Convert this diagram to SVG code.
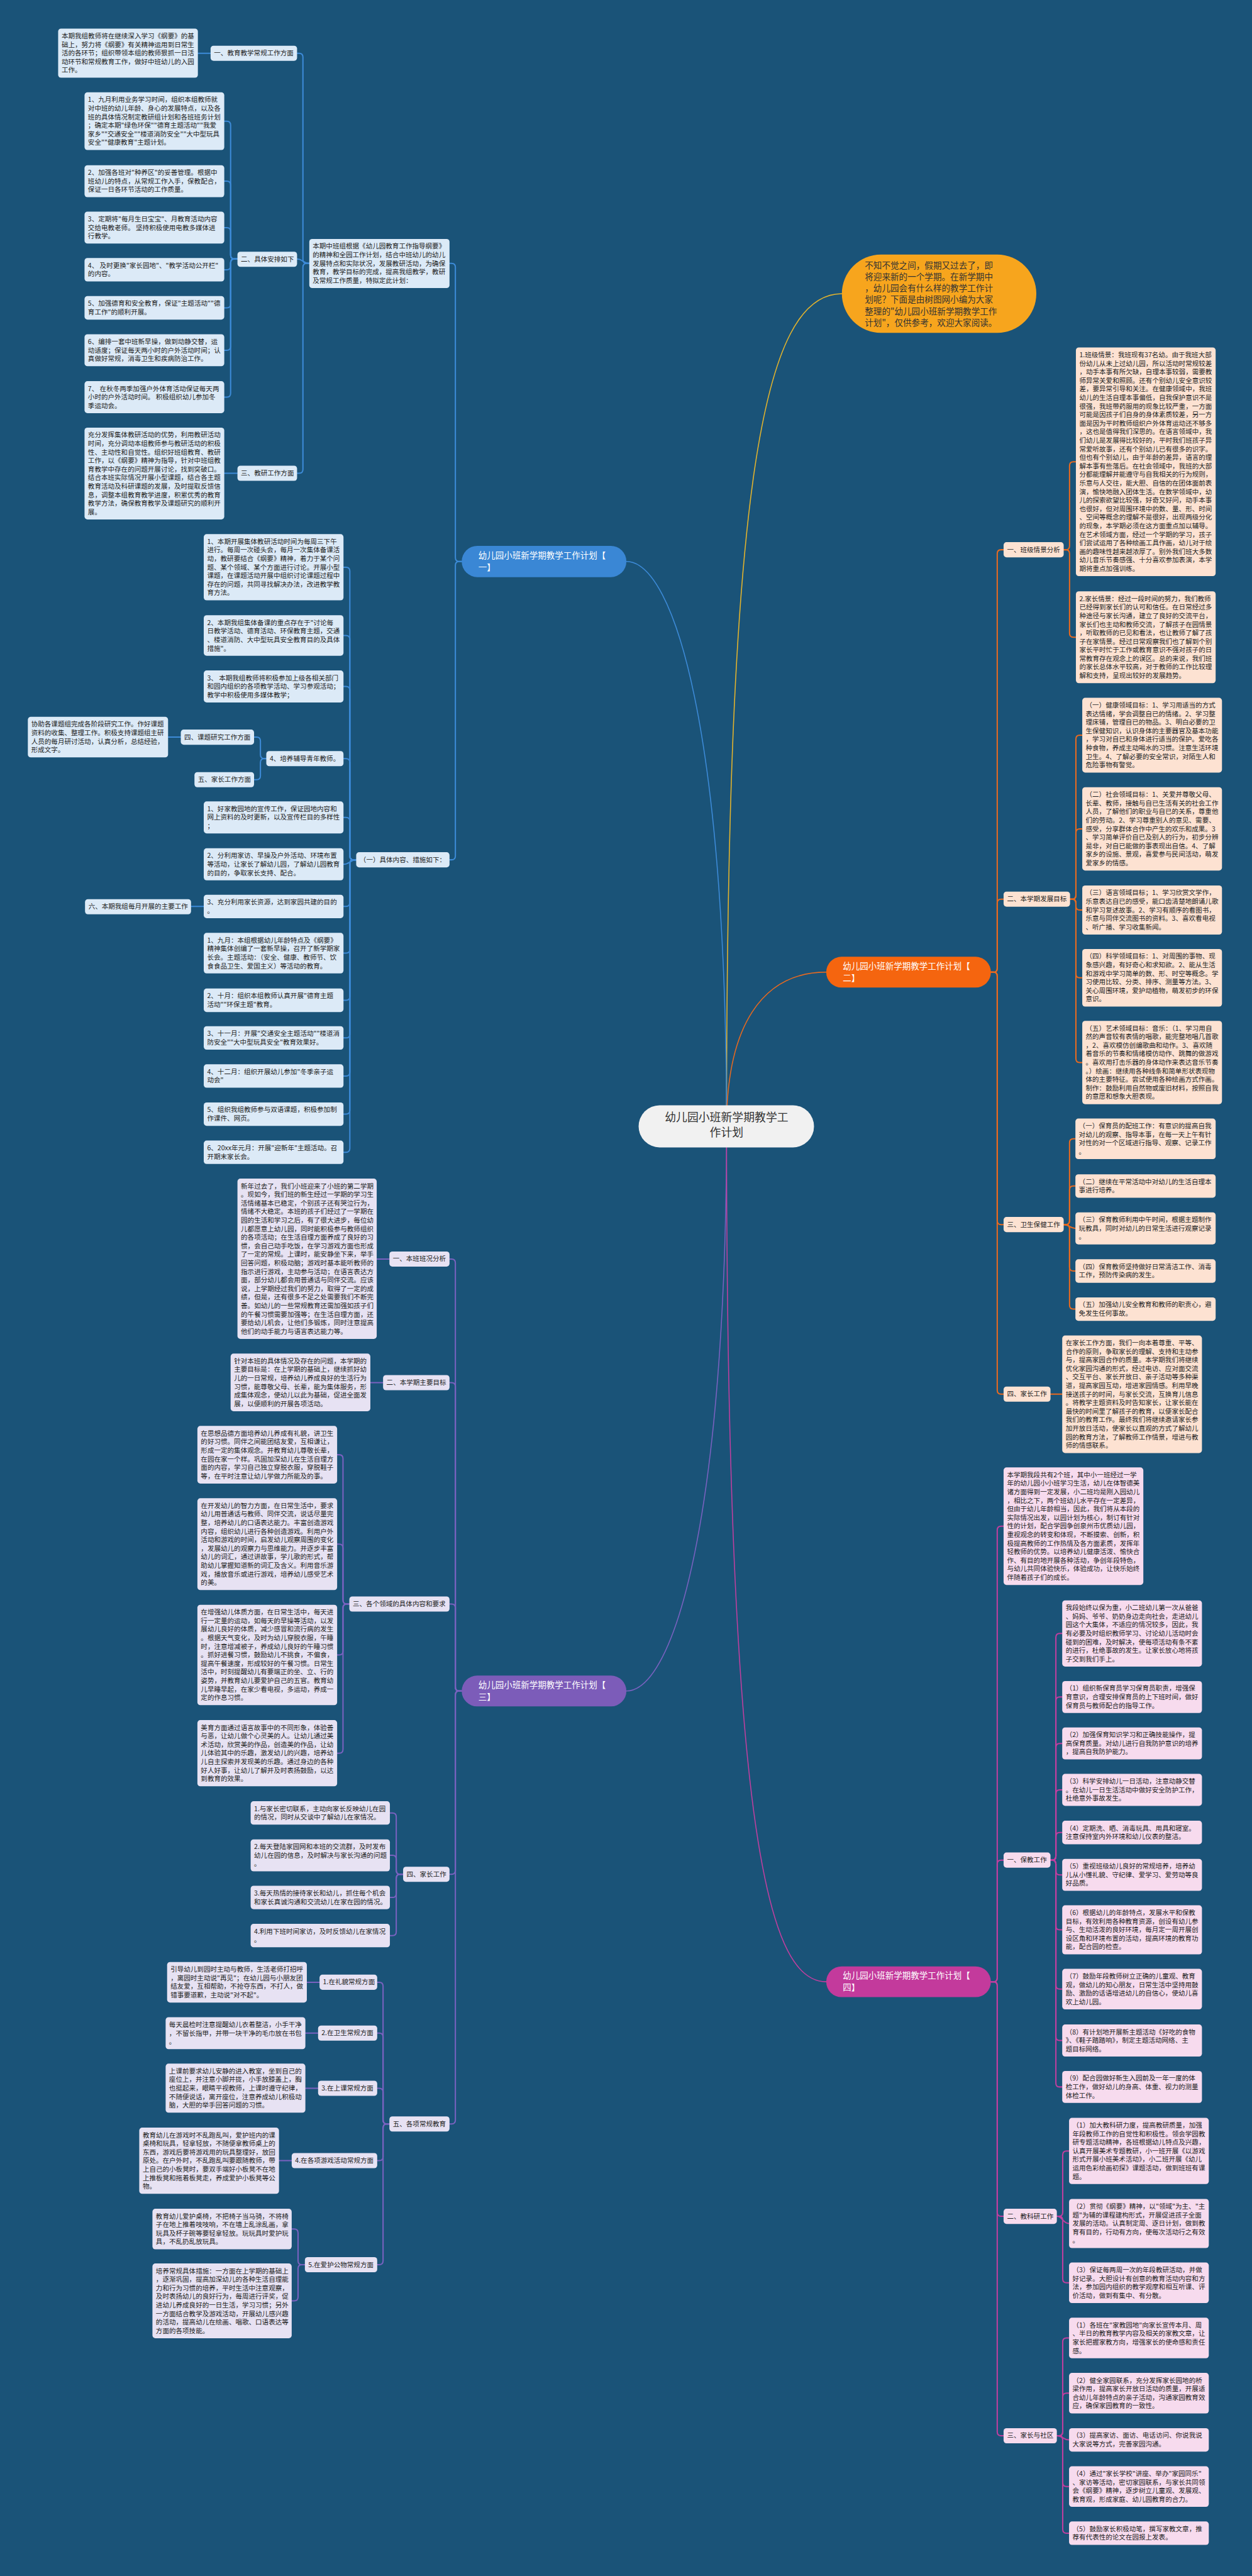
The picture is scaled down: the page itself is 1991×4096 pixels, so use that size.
<svg xmlns="http://www.w3.org/2000/svg" width="1991" height="4096" viewBox="0 0 1991 4096">
<style>
text{font-family:"Noto Sans CJK SC","Noto Sans",sans-serif}
.t{font-size:13.6px;fill:#222}
.pl{font-size:17.4px;fill:#fff}
.rt{font-size:23px;fill:#333;text-anchor:middle}
.bu{font-size:17.5px;fill:#333}
.b{fill:#dceaf7}.o{fill:#fde2d2}.p{fill:#e7e2f3}.m{fill:#f7dbee}
.cn path{fill:none;stroke-width:2.6;stroke-linecap:round}
.cb path{stroke:#3d8bd8}.co path{stroke:#ea6a1f}.cp path{stroke:#7a62c0}.cm path{stroke:#c13f9f}
.main path{fill:none;stroke-width:2}
</style>
<rect x="0" y="0" width="1991" height="4096" fill="#1a5378"/>
<g transform="scale(0.777)">
<g id="connectors" class="cn">
<g class="main">
<path d="M1487 2305 C1487 1000 1560 601 1723 601" stroke="#e6b52c"/>
<path d="M1487 2305 C1487 1500 1380 1149 1282 1149" stroke="#3d8bd8"/>
<path d="M1487 2305 C1487 2100 1560 1989.5 1691 1989.5" stroke="#ea6a1f"/>
<path d="M1487 2305 C1487 3100 1380 3460.5 1282 3460.5" stroke="#7a62c0"/>
<path d="M1487 2305 C1487 3800 1580 4055.5 1691 4055.5" stroke="#c13f9f"/>
</g>
<g class="cb">
<path d="M945 1149 H940 Q932 1149 932 1141 V547 Q932 539 924 539 H920"/>
<path d="M945 1149 H940 Q932 1149 932 1157 V1751.5 Q932 1759.5 924 1759.5 H920"/>
<path d="M633 539 H628 Q620 539 620 531 V117 Q620 109 612 109 H608"/>
<path d="M633 539 C620 539 620 530 608 530"/>
<path d="M633 539 H628 Q620 539 620 547 V960.5 Q620 968.5 612 968.5 H608"/>
<path d="M431 109 H405"/>
<path d="M486 530 H480 Q472 530 472 522 V256 Q472 248 464 248 H459"/>
<path d="M486 530 H480 Q472 530 472 522 V378.75 Q472 370.75 464 370.75 H459"/>
<path d="M486 530 H480 Q472 530 472 522 V473.75 Q472 465.75 464 465.75 H459"/>
<path d="M486 530 H480 Q472 530 472 538 V544 Q472 552 464 552 H459"/>
<path d="M486 530 H480 Q472 530 472 538 V622 Q472 630 464 630 H459"/>
<path d="M486 530 H480 Q472 530 472 538 V708.75 Q472 716.75 464 716.75 H459"/>
<path d="M486 530 H480 Q472 530 472 538 V804.75 Q472 812.75 464 812.75 H459"/>
<path d="M486 968.5 H459"/>
<path d="M729 1759.5 H724 Q716 1759.5 716 1751.5 V1168.75 Q716 1160.75 708 1160.75 H703"/>
<path d="M729 1759.5 H724 Q716 1759.5 716 1751.5 V1308.5 Q716 1300.5 708 1300.5 H703"/>
<path d="M729 1759.5 H724 Q716 1759.5 716 1751.5 V1412.75 Q716 1404.75 708 1404.75 H703"/>
<path d="M729 1759.5 H724 Q716 1759.5 716 1751.5 V1560.5 Q716 1552.5 708 1552.5 H703"/>
<path d="M729 1759.5 H724 Q716 1759.5 716 1751.5 V1680.75 Q716 1672.75 708 1672.75 H703"/>
<path d="M729 1759.5 C716 1759.5 716 1768.75 703 1768.75"/>
<path d="M729 1759.5 H724 Q716 1759.5 716 1767.5 V1847 Q716 1855 708 1855 H703"/>
<path d="M729 1759.5 H724 Q716 1759.5 716 1767.5 V1942.5 Q716 1950.5 708 1950.5 H703"/>
<path d="M729 1759.5 H724 Q716 1759.5 716 1767.5 V2039 Q716 2047 708 2047 H703"/>
<path d="M729 1759.5 H724 Q716 1759.5 716 1767.5 V2116 Q716 2124 708 2124 H703"/>
<path d="M729 1759.5 H724 Q716 1759.5 716 1767.5 V2194 Q716 2202 708 2202 H703"/>
<path d="M729 1759.5 H724 Q716 1759.5 716 1767.5 V2272 Q716 2280 708 2280 H703"/>
<path d="M729 1759.5 H724 Q716 1759.5 716 1767.5 V2350 Q716 2358 708 2358 H703"/>
<path d="M545 1552.5 H541 Q533 1552.5 533 1544.5 V1516.5 Q533 1508.5 525 1508.5 H520"/>
<path d="M545 1552.5 H541 Q533 1552.5 533 1560.5 V1587.5 Q533 1595.5 525 1595.5 H520"/>
<path d="M370 1508.5 H344"/>
<path d="M417 1855 H391"/>
</g>
<g class="cp">
<path d="M945 3460.5 H940 Q932 3460.5 932 3452.5 V2584.5 Q932 2576.5 924 2576.5 H920"/>
<path d="M945 3460.5 H940 Q932 3460.5 932 3452.5 V2837.5 Q932 2829.5 924 2829.5 H920"/>
<path d="M945 3460.5 H940 Q932 3460.5 932 3452.5 V3290.5 Q932 3282.5 924 3282.5 H920"/>
<path d="M945 3460.5 H940 Q932 3460.5 932 3468.5 V3827.5 Q932 3835.5 924 3835.5 H920"/>
<path d="M945 3460.5 H940 Q932 3460.5 932 3468.5 V4338.5 Q932 4346.5 924 4346.5 H920"/>
<path d="M797 2576.5 H771"/>
<path d="M784 2829.5 H758"/>
<path d="M715 3282.5 H710 Q702 3282.5 702 3274.5 V2985 Q702 2977 694 2977 H690"/>
<path d="M715 3282.5 H710 Q702 3282.5 702 3274.5 V3168 Q702 3160 694 3160 H690"/>
<path d="M715 3282.5 H710 Q702 3282.5 702 3290.5 V3378.75 Q702 3386.75 694 3386.75 H690"/>
<path d="M715 3282.5 H710 Q702 3282.5 702 3290.5 V3579.75 Q702 3587.75 694 3587.75 H690"/>
<path d="M825 3835.5 H819 Q811 3835.5 811 3827.5 V3718 Q811 3710 803 3710 H798"/>
<path d="M825 3835.5 H819 Q811 3835.5 811 3827.5 V3804.75 Q811 3796.75 803 3796.75 H798"/>
<path d="M825 3835.5 H819 Q811 3835.5 811 3843.5 V3875 Q811 3883 803 3883 H798"/>
<path d="M825 3835.5 H819 Q811 3835.5 811 3843.5 V3953 Q811 3961 803 3961 H798"/>
<path d="M797 4346.5 H792 Q784 4346.5 784 4338.5 V4064.5 Q784 4056.5 776 4056.5 H772"/>
<path d="M797 4346.5 H792 Q784 4346.5 784 4338.5 V4168.5 Q784 4160.5 776 4160.5 H772"/>
<path d="M797 4346.5 H792 Q784 4346.5 784 4338.5 V4281.5 Q784 4273.5 776 4273.5 H772"/>
<path d="M797 4346.5 H792 Q784 4346.5 784 4354.5 V4413.5 Q784 4421.5 776 4421.5 H772"/>
<path d="M797 4346.5 H792 Q784 4346.5 784 4354.5 V4626.5 Q784 4634.5 776 4634.5 H772"/>
<path d="M654 4056.5 H628"/>
<path d="M651 4160.5 H625"/>
<path d="M651 4273.5 H625"/>
<path d="M597 4421.5 H571"/>
<path d="M624 4634.5 H618 Q610 4634.5 610 4626.5 V4569.5 Q610 4561.5 602 4561.5 H597"/>
<path d="M624 4634.5 H618 Q610 4634.5 610 4642.5 V4700.5 Q610 4708.5 602 4708.5 H597"/>
</g>
<g class="co">
<path d="M2028 1989.5 H2033 Q2041 1989.5 2041 1981.5 V1133 Q2041 1125 2049 1125 H2054"/>
<path d="M2028 1989.5 H2033 Q2041 1989.5 2041 1981.5 V1848 Q2041 1840 2049 1840 H2054"/>
<path d="M2028 1989.5 H2033 Q2041 1989.5 2041 1997.5 V2498 Q2041 2506 2049 2506 H2054"/>
<path d="M2028 1989.5 H2033 Q2041 1989.5 2041 1997.5 V2845 Q2041 2853 2049 2853 H2054"/>
<path d="M2177 1125 H2181 Q2189 1125 2189 1117 V953 Q2189 945 2197 945 H2202"/>
<path d="M2177 1125 H2181 Q2189 1125 2189 1133 V1296 Q2189 1304 2197 1304 H2202"/>
<path d="M2190 1840 H2194 Q2202 1840 2202 1832 V1512.5 Q2202 1504.5 2210 1504.5 H2215"/>
<path d="M2190 1840 H2194 Q2202 1840 2202 1832 V1704.25 Q2202 1696.25 2210 1696.25 H2215"/>
<path d="M2190 1840 H2194 Q2202 1840 2202 1848 V1854.25 Q2202 1862.25 2210 1862.25 H2215"/>
<path d="M2190 1840 H2194 Q2202 1840 2202 1848 V1993 Q2202 2001 2210 2001 H2215"/>
<path d="M2190 1840 H2194 Q2202 1840 2202 1848 V2166.25 Q2202 2174.25 2210 2174.25 H2215"/>
<path d="M2177 2506 H2181 Q2189 2506 2189 2498 V2338.5 Q2189 2330.5 2197 2330.5 H2201"/>
<path d="M2177 2506 H2181 Q2189 2506 2189 2498 V2435 Q2189 2427 2197 2427 H2201"/>
<path d="M2177 2506 C2189 2506 2189 2513.75 2201 2513.75"/>
<path d="M2177 2506 H2181 Q2189 2506 2189 2514 V2593 Q2189 2601 2197 2601 H2201"/>
<path d="M2177 2506 H2181 Q2189 2506 2189 2514 V2671 Q2189 2679 2197 2679 H2201"/>
<path d="M2150 2853 H2174"/>
</g>
<g class="cm">
<path d="M2028 4055.5 H2033 Q2041 4055.5 2041 4047.5 V3131.25 Q2041 3123.25 2049 3123.25 H2054"/>
<path d="M2028 4055.5 H2033 Q2041 4055.5 2041 4047.5 V3814.5 Q2041 3806.5 2049 3806.5 H2054"/>
<path d="M2028 4055.5 H2033 Q2041 4055.5 2041 4063.5 V4527.5 Q2041 4535.5 2049 4535.5 H2054"/>
<path d="M2028 4055.5 H2033 Q2041 4055.5 2041 4063.5 V4976.5 Q2041 4984.5 2049 4984.5 H2054"/>
<path d="M2150 3806.5 H2153 Q2161 3806.5 2161 3798.5 V3350.75 Q2161 3342.75 2169 3342.75 H2174"/>
<path d="M2150 3806.5 H2153 Q2161 3806.5 2161 3798.5 V3480.75 Q2161 3472.75 2169 3472.75 H2174"/>
<path d="M2150 3806.5 H2153 Q2161 3806.5 2161 3798.5 V3575.75 Q2161 3567.75 2169 3567.75 H2174"/>
<path d="M2150 3806.5 H2153 Q2161 3806.5 2161 3798.5 V3670.75 Q2161 3662.75 2169 3662.75 H2174"/>
<path d="M2150 3806.5 H2153 Q2161 3806.5 2161 3798.5 V3758 Q2161 3750 2169 3750 H2174"/>
<path d="M2150 3806.5 H2153 Q2161 3806.5 2161 3814.5 V3828.75 Q2161 3836.75 2169 3836.75 H2174"/>
<path d="M2150 3806.5 H2153 Q2161 3806.5 2161 3814.5 V3941.25 Q2161 3949.25 2169 3949.25 H2174"/>
<path d="M2150 3806.5 H2153 Q2161 3806.5 2161 3814.5 V4062.5 Q2161 4070.5 2169 4070.5 H2174"/>
<path d="M2150 3806.5 H2153 Q2161 3806.5 2161 3814.5 V4167.75 Q2161 4175.75 2169 4175.75 H2174"/>
<path d="M2150 3806.5 H2153 Q2161 3806.5 2161 3814.5 V4262.75 Q2161 4270.75 2169 4270.75 H2174"/>
<path d="M2163 4535.5 H2167 Q2175 4535.5 2175 4527.5 V4409.75 Q2175 4401.75 2183 4401.75 H2188"/>
<path d="M2163 4535.5 C2175 4535.5 2175 4550.25 2188 4550.25"/>
<path d="M2163 4535.5 H2167 Q2175 4535.5 2175 4543.5 V4663.5 Q2175 4671.5 2183 4671.5 H2188"/>
<path d="M2163 4984.5 H2167 Q2175 4984.5 2175 4976.5 V4792.5 Q2175 4784.5 2183 4784.5 H2188"/>
<path d="M2163 4984.5 H2167 Q2175 4984.5 2175 4976.5 V4905.5 Q2175 4897.5 2183 4897.5 H2188"/>
<path d="M2163 4984.5 C2175 4984.5 2175 4993 2188 4993"/>
<path d="M2163 4984.5 H2167 Q2175 4984.5 2175 4992.5 V5080.5 Q2175 5088.5 2183 5088.5 H2188"/>
<path d="M2163 4984.5 H2167 Q2175 4984.5 2175 4992.5 V5176 Q2175 5184 2183 5184 H2188"/>
</g>
</g>

<g id="n-root"><rect x="1307" y="2262" width="359" height="86" rx="43" fill="#f1f1f1"/><text class="rt"><tspan x="1487" y="2295">幼儿园小班新学期教学工</tspan><tspan x="1487" y="2326">作计划</tspan></text></g>
<g id="n-intro"><rect x="1723" y="521" width="398" height="160" rx="80" fill="#f7a51d"/><text class="bu"><tspan x="1770" y="549">不知不觉之间，假期又过去了，即</tspan><tspan x="1770" dy="23.5">将迎来新的一个学期。在新学期中</tspan><tspan x="1770" dy="23.5">，幼儿园会有什么样的教学工作计</tspan><tspan x="1770" dy="23.5">划呢？下面是由树图网小编为大家</tspan><tspan x="1770" dy="23.5">整理的"幼儿园小班新学期教学工作</tspan><tspan x="1770" dy="23.5">计划"，仅供参考，欢迎大家阅读。</tspan></text></g>

<g id="n-b1"><rect x="945" y="1117" width="337" height="64" rx="32" fill="#3a87d5"/><text class="pl"><tspan x="979" y="1143">幼儿园小班新学期教学工作计划【</tspan><tspan x="979" dy="24">一】</tspan></text></g>
<g id="n-b2"><rect x="1691" y="1958" width="337" height="63" rx="31.5" fill="#f5650f"/><text class="pl"><tspan x="1725" y="1983.5">幼儿园小班新学期教学工作计划【</tspan><tspan x="1725" dy="24">二】</tspan></text></g>
<g id="n-b3"><rect x="945" y="3429" width="337" height="63" rx="31.5" fill="#7c5cb9"/><text class="pl"><tspan x="979" y="3454.5">幼儿园小班新学期教学工作计划【</tspan><tspan x="979" dy="24">三】</tspan></text></g>
<g id="n-b4"><rect x="1691" y="4024" width="337" height="63" rx="31.5" fill="#c33a9c"/><text class="pl"><tspan x="1725" y="4049.5">幼儿园小班新学期教学工作计划【</tspan><tspan x="1725" dy="24">四】</tspan></text></g>

<!-- branch 1 -->
<g id="n1-intro"><rect class="b" x="633" y="489" width="287" height="100.5" rx="6"/><text class="t"><tspan x="640" y="509">本期中班组根据《幼儿园教育工作指导纲要》</tspan><tspan x="640" dy="17.5">的精神和全园工作计划，结合中班幼儿的幼儿</tspan><tspan x="640" dy="17.5">发展特点和实际状况，发展教研活动，为确保</tspan><tspan x="640" dy="17.5">教育，教学目标的完成，提高我组教学，教研</tspan><tspan x="640" dy="17.5">及常规工作质量，特拟定此计划：</tspan></text></g>
<g id="n1-s1"><rect class="b" x="431" y="93.5" width="177" height="31" rx="6"/><text class="t" x="438" y="113.5">一、教育教学常规工作方面</text></g>
<g id="n1-s1a"><rect class="b" x="119" y="58.5" width="286" height="100.5" rx="6"/><text class="t"><tspan x="126" y="78.5">本期我组教师将在继续深入学习《纲要》的基</tspan><tspan x="126" dy="17.5">础上，努力将《纲要》有关精神运用到日常生</tspan><tspan x="126" dy="17.5">活的各环节；组织带领本组的教师狠抓一日活</tspan><tspan x="126" dy="17.5">动环节和常规教育工作，做好中班幼儿的入园</tspan><tspan x="126" dy="17.5">工作。</tspan></text></g>
<g id="n1-s2"><rect class="b" x="486" y="515" width="122" height="31" rx="6"/><text class="t" x="493" y="535">二、具体安排如下</text></g>
<g id="n1-s2-1"><rect class="b" x="173" y="189" width="286" height="118" rx="6"/><text class="t"><tspan x="180" y="209">1、九月利用业务学习时间，组织本组教师就</tspan><tspan x="180" dy="17.5">对中班的幼儿年龄、身心的发展特点，以及各</tspan><tspan x="180" dy="17.5">班的具体情况制定教研组计划和各班班务计划</tspan><tspan x="180" dy="17.5">；确定本期"绿色环保""德育主题活动""我爱</tspan><tspan x="180" dy="17.5">家乡""交通安全""楼道消防安全""大中型玩具</tspan><tspan x="180" dy="17.5">安全""健康教育"主题计划。</tspan></text></g>
<g id="n1-s2-2"><rect class="b" x="173" y="338" width="286" height="65.5" rx="6"/><text class="t"><tspan x="180" y="358">2、加强各班对"种养区"的妥善管理。根据中</tspan><tspan x="180" dy="17.5">班幼儿的特点，从常规工作入手，保教配合，</tspan><tspan x="180" dy="17.5">保证一日各环节活动的工作质量。</tspan></text></g>
<g id="n1-s2-3"><rect class="b" x="173" y="433" width="286" height="65.5" rx="6"/><text class="t"><tspan x="180" y="453">3、定期将"每月生日宝宝"、月教育活动内容</tspan><tspan x="180" dy="17.5">交给电教老师。 坚持积极使用电教多媒体进</tspan><tspan x="180" dy="17.5">行教学。</tspan></text></g>
<g id="n1-s2-4"><rect class="b" x="173" y="528" width="286" height="48" rx="6"/><text class="t"><tspan x="180" y="548">4、 及时更换"家长园地"、"教学活动公开栏"</tspan><tspan x="180" dy="17.5">的内容。</tspan></text></g>
<g id="n1-s2-5"><rect class="b" x="173" y="606" width="286" height="48" rx="6"/><text class="t"><tspan x="180" y="626">5、加强德育和安全教育，保证"主题活动""德</tspan><tspan x="180" dy="17.5">育工作"的顺利开展。</tspan></text></g>
<g id="n1-s2-6"><rect class="b" x="173" y="684" width="286" height="65.5" rx="6"/><text class="t"><tspan x="180" y="704">6、编排一套中班新早操，做到动静交替，运</tspan><tspan x="180" dy="17.5">动适度；保证每天两小时的户外活动时间；认</tspan><tspan x="180" dy="17.5">真做好常规，消毒卫生和疾病防治工作。</tspan></text></g>
<g id="n1-s2-7"><rect class="b" x="173" y="780" width="286" height="65.5" rx="6"/><text class="t"><tspan x="180" y="800">7、 在秋冬两季加强户外体育活动保证每天两</tspan><tspan x="180" dy="17.5">小时的户外活动时间。 积极组织幼儿参加冬</tspan><tspan x="180" dy="17.5">季运动会。</tspan></text></g>
<g id="n1-s3"><rect class="b" x="486" y="953" width="122" height="31" rx="6"/><text class="t" x="493" y="973">三、教研工作方面</text></g>
<g id="n1-s3a"><rect class="b" x="173" y="875" width="286" height="188" rx="6"/><text class="t"><tspan x="180" y="895">充分发挥集体教研活动的优势，利用教研活动</tspan><tspan x="180" dy="17.5">时间，充分调动本组教师参与教研活动的积极</tspan><tspan x="180" dy="17.5">性、主动性和自觉性。组织好班组教育、教研</tspan><tspan x="180" dy="17.5">工作，以《纲要》精神为指导，针对中班组教</tspan><tspan x="180" dy="17.5">育教学中存在的问题开展讨论，找到突破口。</tspan><tspan x="180" dy="17.5">结合本班实际情况开展小型课题，结合各主题</tspan><tspan x="180" dy="17.5">教育活动及科研课题的发展，及时提取反馈信</tspan><tspan x="180" dy="17.5">息，调整本组教育教学进度，积累优秀的教育</tspan><tspan x="180" dy="17.5">教学方法，确保教育教学及课题研究的顺利开</tspan><tspan x="180" dy="17.5">展。</tspan></text></g>
<g id="n1-m"><rect class="b" x="729" y="1744" width="191" height="31" rx="6"/><text class="t" x="736" y="1764">（一）具体内容、措施如下：</text></g>
<g id="n1-m1"><rect class="b" x="417" y="1093" width="286" height="135.5" rx="6"/><text class="t"><tspan x="424" y="1113">1、本期开展集体教研活动时间为每周三下午</tspan><tspan x="424" dy="17.5">进行。每周一次碰头会，每月一次集体备课活</tspan><tspan x="424" dy="17.5">动，教研要结合《纲要》精神，着力于某个问</tspan><tspan x="424" dy="17.5">题、某个领域、某个方面进行讨论。开展小型</tspan><tspan x="424" dy="17.5">课题，在课题活动开展中组织讨论课题过程中</tspan><tspan x="424" dy="17.5">存在的问题，共同寻找解决办法，改进教学教</tspan><tspan x="424" dy="17.5">育方法。</tspan></text></g>
<g id="n1-m2"><rect class="b" x="417" y="1259" width="286" height="83" rx="6"/><text class="t"><tspan x="424" y="1279">2、本期我组集体备课的重点存在于"讨论每</tspan><tspan x="424" dy="17.5">日教学活动、德育活动、环保教育主题，交通</tspan><tspan x="424" dy="17.5">、楼道消防、大中型玩具安全教育目的及具体</tspan><tspan x="424" dy="17.5">措施"。</tspan></text></g>
<g id="n1-m3"><rect class="b" x="417" y="1372" width="286" height="65.5" rx="6"/><text class="t"><tspan x="424" y="1392">3、 本期我组教师将积极参加上级各相关部门</tspan><tspan x="424" dy="17.5">和园内组织的各项教学活动、学习参观活动；</tspan><tspan x="424" dy="17.5">教学中积极使用多媒体教学；</tspan></text></g>
<g id="n1-m4"><rect class="b" x="545" y="1537" width="158" height="31" rx="6"/><text class="t" x="552" y="1557">4、培养辅导青年教师。</text></g>
<g id="n1-m4a"><rect class="b" x="370" y="1493" width="150" height="31" rx="6"/><text class="t" x="377" y="1513">四、课题研究工作方面</text></g>
<g id="n1-m4a1"><rect class="b" x="57" y="1467" width="287" height="83" rx="6"/><text class="t"><tspan x="64" y="1487">协助各课题组完成各阶段研究工作。作好课题</tspan><tspan x="64" dy="17.5">资料的收集、整理工作。积极支持课题组主研</tspan><tspan x="64" dy="17.5">人员的每月研讨活动，认真分析，总结经验，</tspan><tspan x="64" dy="17.5">形成文字。</tspan></text></g>
<g id="n1-m4b"><rect class="b" x="398" y="1580" width="122" height="31" rx="6"/><text class="t" x="405" y="1600">五、家长工作方面</text></g>
<g id="n1-m5"><rect class="b" x="417" y="1640" width="286" height="65.5" rx="6"/><text class="t"><tspan x="424" y="1660">1、好家教园地的宣传工作，保证园地内容和</tspan><tspan x="424" dy="17.5">网上资料的及时更新，以及宣传栏目的多样性</tspan><tspan x="424" dy="17.5">；</tspan></text></g>
<g id="n1-m6"><rect class="b" x="417" y="1736" width="286" height="65.5" rx="6"/><text class="t"><tspan x="424" y="1756">2、分利用家访、早操及户外活动、环境布置</tspan><tspan x="424" dy="17.5">等活动，让家长了解幼儿园，了解幼儿园教育</tspan><tspan x="424" dy="17.5">的目的，争取家长支持、配合。</tspan></text></g>
<g id="n1-m7"><rect class="b" x="417" y="1831" width="286" height="48" rx="6"/><text class="t"><tspan x="424" y="1851">3、充分利用家长资源，达到家园共建的目的</tspan><tspan x="424" dy="17.5">。</tspan></text></g>
<g id="n1-m7a"><rect class="b" x="174" y="1840" width="217" height="31" rx="6"/><text class="t" x="181" y="1860">六、本期我组每月开展的主要工作</text></g>
<g id="n1-m8"><rect class="b" x="417" y="1909" width="286" height="83" rx="6"/><text class="t"><tspan x="424" y="1929">1、九月：本组根据幼儿年龄特点及《纲要》</tspan><tspan x="424" dy="17.5">精神集体创编了一套新早操，召开了新学期家</tspan><tspan x="424" dy="17.5">长会。主题活动：（安全、健康、教师节、饮</tspan><tspan x="424" dy="17.5">食食品卫生、爱国主义）等活动的教育。</tspan></text></g>
<g id="n1-m9"><rect class="b" x="417" y="2023" width="286" height="48" rx="6"/><text class="t"><tspan x="424" y="2043">2、十月：组织本组教师认真开展"德育主题</tspan><tspan x="424" dy="17.5">活动""环保主题"教育。</tspan></text></g>
<g id="n1-m10"><rect class="b" x="417" y="2100" width="286" height="48" rx="6"/><text class="t"><tspan x="424" y="2120">3、十一月：开展"交通安全主题活动""楼道消</tspan><tspan x="424" dy="17.5">防安全""大中型玩具安全"教育效果好。</tspan></text></g>
<g id="n1-m11"><rect class="b" x="417" y="2178" width="286" height="48" rx="6"/><text class="t"><tspan x="424" y="2198">4、十二月：组织开展幼儿参加"冬季亲子运</tspan><tspan x="424" dy="17.5">动会"</tspan></text></g>
<g id="n1-m12"><rect class="b" x="417" y="2256" width="286" height="48" rx="6"/><text class="t"><tspan x="424" y="2276">5、组织我组教师参与双语课题，积极参加制</tspan><tspan x="424" dy="17.5">作课件、网页。</tspan></text></g>
<g id="n1-m13"><rect class="b" x="417" y="2334" width="286" height="48" rx="6"/><text class="t"><tspan x="424" y="2354">6、20xx年元月：开展"迎新年"主题活动。召</tspan><tspan x="424" dy="17.5">开期末家长会。</tspan></text></g>

<!-- branch 3 -->
<g id="n3-s1"><rect class="p" x="797" y="2561" width="123" height="31" rx="6"/><text class="t" x="804" y="2581">一、本班班况分析</text></g>
<g id="n3-s1a"><rect class="p" x="486" y="2412" width="285" height="328" rx="6"/><text class="t"><tspan x="493" y="2432">新年过去了，我们小班迎来了小班的第二学期</tspan><tspan x="493" dy="17.5">。现如今，我们班的新生经过一学期的学习生</tspan><tspan x="493" dy="17.5">活情绪基本已稳定，个别孩子还有哭泣行为，</tspan><tspan x="493" dy="17.5">情绪不大稳定。本班的孩子们经过了一学期在</tspan><tspan x="493" dy="17.5">园的生活和学习之后，有了很大进步，每位幼</tspan><tspan x="493" dy="17.5">儿都愿意上幼儿园，同时能积极参与教师组织</tspan><tspan x="493" dy="17.5">的各项活动；在生活自理方面养成了良好的习</tspan><tspan x="493" dy="17.5">惯，会自己动手吃饭，在学习游戏方面也形成</tspan><tspan x="493" dy="17.5">了一定的常规。上课时，能安静坐下来，举手</tspan><tspan x="493" dy="17.5">回答问题，积极动脑；游戏时基本能听教师的</tspan><tspan x="493" dy="17.5">指示进行游戏，主动参与活动；在语言表达方</tspan><tspan x="493" dy="17.5">面，部分幼儿都会用普通话与同伴交流。应该</tspan><tspan x="493" dy="17.5">说，上学期经过我们的努力，取得了一定的成</tspan><tspan x="493" dy="17.5">绩，但是，还有很多不足之处需要我们不断完</tspan><tspan x="493" dy="17.5">善。如幼儿的一些常规教育还需加强如孩子们</tspan><tspan x="493" dy="17.5">的午餐习惯需要加强等；在生活自理方面，还</tspan><tspan x="493" dy="17.5">要给幼儿机会，让他们多锻炼，同时注意提高</tspan><tspan x="493" dy="17.5">他们的动手能力与语言表达能力等。</tspan></text></g>
<g id="n3-s2"><rect class="p" x="784" y="2814" width="136" height="31" rx="6"/><text class="t" x="791" y="2834">二、本学期主要目标</text></g>
<g id="n3-s2a"><rect class="p" x="472" y="2770" width="286" height="118" rx="6"/><text class="t"><tspan x="479" y="2790">针对本班的具体情况及存在的问题，本学期的</tspan><tspan x="479" dy="17.5">主要目标是：在上学期的基础上，继续抓好幼</tspan><tspan x="479" dy="17.5">儿的一日常规，培养幼儿养成良好的生活行为</tspan><tspan x="479" dy="17.5">习惯，能尊敬父母、长辈，能为集体服务，形</tspan><tspan x="479" dy="17.5">成集体观念，使幼儿以此为基础，促进全面发</tspan><tspan x="479" dy="17.5">展，以便顺利的开展各项活动。</tspan></text></g>
<g id="n3-s3"><rect class="p" x="715" y="3267" width="205" height="31" rx="6"/><text class="t" x="722" y="3287">三、各个领域的具体内容和要求</text></g>
<g id="n3-s3-1"><rect class="p" x="404" y="2918" width="286" height="118" rx="6"/><text class="t"><tspan x="411" y="2938">在思想品德方面培养幼儿养成有礼貌，讲卫生</tspan><tspan x="411" dy="17.5">的好习惯。同伴之间能团结友爱，互相谦让，</tspan><tspan x="411" dy="17.5">形成一定的集体观念。并教育幼儿尊敬长辈，</tspan><tspan x="411" dy="17.5">在园在家一个样。巩固加深幼儿在生活自理方</tspan><tspan x="411" dy="17.5">面的内容，学习自己独立穿脱衣服，穿脱鞋子</tspan><tspan x="411" dy="17.5">等，在平时注意让幼儿学做力所能及的事。</tspan></text></g>
<g id="n3-s3-2"><rect class="p" x="404" y="3066" width="286" height="188" rx="6"/><text class="t"><tspan x="411" y="3086">在开发幼儿的智力方面，在日常生活中，要求</tspan><tspan x="411" dy="17.5">幼儿用普通话与教师、同伴交流，说话尽量完</tspan><tspan x="411" dy="17.5">整，培养幼儿的口语表达能力。丰富创造游戏</tspan><tspan x="411" dy="17.5">内容，组织幼儿进行各种创造游戏。利用户外</tspan><tspan x="411" dy="17.5">活动和游戏的时间，启发幼儿观察周围的变化</tspan><tspan x="411" dy="17.5">，发展幼儿的观察力与思维能力。并逐步丰富</tspan><tspan x="411" dy="17.5">幼儿的词汇，通过讲故事，学儿歌的形式，帮</tspan><tspan x="411" dy="17.5">助幼儿掌握知道新的词汇及含义。利用音乐游</tspan><tspan x="411" dy="17.5">戏，播放音乐或进行游戏，培养幼儿感受艺术</tspan><tspan x="411" dy="17.5">的美。</tspan></text></g>
<g id="n3-s3-3"><rect class="p" x="404" y="3284" width="286" height="205.5" rx="6"/><text class="t"><tspan x="411" y="3304">在增强幼儿体质方面，在日常生活中，每天进</tspan><tspan x="411" dy="17.5">行一定量的运动，如每天的早操等活动，以发</tspan><tspan x="411" dy="17.5">展幼儿良好的体质，减少感冒和流行病的发生</tspan><tspan x="411" dy="17.5">。根据天气变化，及时为幼儿穿脱衣服，午睡</tspan><tspan x="411" dy="17.5">时，注意增减被子，养成幼儿良好的午睡习惯</tspan><tspan x="411" dy="17.5">。抓好进餐习惯，鼓励幼儿不挑食，不偏食，</tspan><tspan x="411" dy="17.5">提高午餐速度，形成较好的午餐习惯。日常生</tspan><tspan x="411" dy="17.5">活中，时刻提醒幼儿有要端正的坐、立、行的</tspan><tspan x="411" dy="17.5">姿势，并教育幼儿要爱护自己的五官。教育幼</tspan><tspan x="411" dy="17.5">儿早睡早起，在家少看电视，多运动，养成一</tspan><tspan x="411" dy="17.5">定的作息习惯。</tspan></text></g>
<g id="n3-s3-4"><rect class="p" x="404" y="3520" width="286" height="135.5" rx="6"/><text class="t"><tspan x="411" y="3540">美育方面通过语言故事中的不同形象，体验善</tspan><tspan x="411" dy="17.5">与恶，让幼儿做个心灵美的人。让幼儿通过美</tspan><tspan x="411" dy="17.5">术活动，欣赏美的作品，创造美的作品，让幼</tspan><tspan x="411" dy="17.5">儿体验其中的乐趣，激发幼儿的兴趣，培养幼</tspan><tspan x="411" dy="17.5">儿自主探索并发现美的乐趣。通过身边的各种</tspan><tspan x="411" dy="17.5">好人好事，让幼儿了解并及时表扬鼓励，以达</tspan><tspan x="411" dy="17.5">到教育的效果。</tspan></text></g>
<g id="n3-s4"><rect class="p" x="825" y="3820" width="95" height="31" rx="6"/><text class="t" x="832" y="3840">四、家长工作</text></g>
<g id="n3-s4-1"><rect class="p" x="513" y="3686" width="285" height="48" rx="6"/><text class="t"><tspan x="520" y="3706">1.与家长密切联系，主动向家长反映幼儿在园</tspan><tspan x="520" dy="17.5">的情况，同时从交谈中了解幼儿在家情况。</tspan></text></g>
<g id="n3-s4-2"><rect class="p" x="513" y="3764" width="285" height="65.5" rx="6"/><text class="t"><tspan x="520" y="3784">2.每天登陆家园网和本班的交流群，及时发布</tspan><tspan x="520" dy="17.5">幼儿在园的信息，及时解决与家长沟通的问题</tspan><tspan x="520" dy="17.5">。</tspan></text></g>
<g id="n3-s4-3"><rect class="p" x="513" y="3859" width="285" height="48" rx="6"/><text class="t"><tspan x="520" y="3879">3.每天热情的接待家长和幼儿，抓住每个机会</tspan><tspan x="520" dy="17.5">和家长真诚沟通和交流幼儿在家在园的情况。</tspan></text></g>
<g id="n3-s4-4"><rect class="p" x="513" y="3937" width="285" height="48" rx="6"/><text class="t"><tspan x="520" y="3957">4.利用下班时间家访，及时反馈幼儿在家情况</tspan><tspan x="520" dy="17.5">。</tspan></text></g>
<g id="n3-s5"><rect class="p" x="797" y="4331" width="123" height="31" rx="6"/><text class="t" x="804" y="4351">五、各项常规教育</text></g>
<g id="n3-s5-1"><rect class="p" x="654" y="4041" width="118" height="31" rx="6"/><text class="t" x="661" y="4061">1.在礼貌常规方面</text></g>
<g id="n3-s5-1a"><rect class="p" x="342" y="4015" width="286" height="83" rx="6"/><text class="t"><tspan x="349" y="4035">引导幼儿到园时主动与教师，生活老师打招呼</tspan><tspan x="349" dy="17.5">，离园时主动说"再见"；在幼儿园与小朋友团</tspan><tspan x="349" dy="17.5">结友爱，互相帮助，不抢夺东西，不打人，做</tspan><tspan x="349" dy="17.5">错事要道歉，主动说"对不起"。</tspan></text></g>
<g id="n3-s5-2"><rect class="p" x="651" y="4145" width="121" height="31" rx="6"/><text class="t" x="658" y="4165">2.在卫生常规方面</text></g>
<g id="n3-s5-2a"><rect class="p" x="339" y="4128" width="286" height="65.5" rx="6"/><text class="t"><tspan x="346" y="4148">每天晨检时注意提醒幼儿衣着整洁，小手干净</tspan><tspan x="346" dy="17.5">，不留长指甲，并带一块干净的毛巾放在书包</tspan><tspan x="346" dy="17.5">。</tspan></text></g>
<g id="n3-s5-3"><rect class="p" x="651" y="4258" width="121" height="31" rx="6"/><text class="t" x="658" y="4278">3.在上课常规方面</text></g>
<g id="n3-s5-3a"><rect class="p" x="339" y="4223" width="286" height="100.5" rx="6"/><text class="t"><tspan x="346" y="4243">上课前要求幼儿安静的进入教室，坐到自己的</tspan><tspan x="346" dy="17.5">座位上，并注意小脚并拢，小手放膝盖上，胸</tspan><tspan x="346" dy="17.5">也挺起来，眼睛平视教师，上课时遵守纪律，</tspan><tspan x="346" dy="17.5">不随便说话，离开座位，注意养成幼儿积极动</tspan><tspan x="346" dy="17.5">脑，大胆的举手回答问题的习惯。</tspan></text></g>
<g id="n3-s5-4"><rect class="p" x="597" y="4406" width="175" height="31" rx="6"/><text class="t" x="604" y="4426">4.在各项游戏活动常规方面</text></g>
<g id="n3-s5-4a"><rect class="p" x="285" y="4354" width="286" height="135.5" rx="6"/><text class="t"><tspan x="292" y="4374">教育幼儿在游戏时不乱跑乱叫，爱护班内的课</tspan><tspan x="292" dy="17.5">桌椅和玩具，轻拿轻放，不随便拿教师桌上的</tspan><tspan x="292" dy="17.5">东西，游戏后要将游戏用的玩具整理好，放回</tspan><tspan x="292" dy="17.5">原处。在户外时，不乱跑乱叫要跟随教师，带</tspan><tspan x="292" dy="17.5">上自己的小板凳时，要双手端好小板凳不在地</tspan><tspan x="292" dy="17.5">上推板凳和拖着板凳走，养成爱护小板凳等公</tspan><tspan x="292" dy="17.5">物。</tspan></text></g>
<g id="n3-s5-5"><rect class="p" x="624" y="4619" width="148" height="31" rx="6"/><text class="t" x="631" y="4639">5.在爱护公物常规方面</text></g>
<g id="n3-s5-5a"><rect class="p" x="312" y="4520" width="285" height="83" rx="6"/><text class="t"><tspan x="319" y="4540">教育幼儿爱护桌椅，不把椅子当马骑，不将椅</tspan><tspan x="319" dy="17.5">子在地上推着吱吱响，不在墙上乱涂乱画，拿</tspan><tspan x="319" dy="17.5">玩具及杯子碗等要轻拿轻放。玩玩具时爱护玩</tspan><tspan x="319" dy="17.5">具，不乱扔乱放玩具。</tspan></text></g>
<g id="n3-s5-5b"><rect class="p" x="312" y="4632" width="285" height="153" rx="6"/><text class="t"><tspan x="319" y="4652">培养常规具体措施：一方面在上学期的基础上</tspan><tspan x="319" dy="17.5">，逐渐巩固，提高加深幼儿的各种生活自理能</tspan><tspan x="319" dy="17.5">力和行为习惯的培养，平时生活中注意观察，</tspan><tspan x="319" dy="17.5">及时表扬幼儿的良好行为，每周进行评奖，促</tspan><tspan x="319" dy="17.5">进幼儿养成良好的一日生活，学习习惯；另外</tspan><tspan x="319" dy="17.5">一方面结合教学及游戏活动，开展幼儿感兴趣</tspan><tspan x="319" dy="17.5">的活动，提高幼儿在绘画、唱歌、口语表达等</tspan><tspan x="319" dy="17.5">方面的各项技能。</tspan></text></g>

<!-- branch 2 -->
<g id="n2-s1"><rect class="o" x="2054" y="1109.5" width="123" height="31" rx="6"/><text class="t" x="2061" y="1129.5">一、班级情景分析</text></g>
<g id="n2-s1-1"><rect class="o" x="2202" y="711" width="286" height="468" rx="6"/><text class="t"><tspan x="2209" y="731">1.班级情景：我班现有37名幼。由于我班大部</tspan><tspan x="2209" dy="17.5">份幼儿从未上过幼儿园，所以活动时常规较差</tspan><tspan x="2209" dy="17.5">，动手本事有所欠缺，自理本事较弱，需要教</tspan><tspan x="2209" dy="17.5">师异常关爱和照顾。还有个别幼儿安全意识较</tspan><tspan x="2209" dy="17.5">差，要异常引导和关注。在健康领域中，我班</tspan><tspan x="2209" dy="17.5">幼儿的生活自理本事偏低，自我保护意识不是</tspan><tspan x="2209" dy="17.5">很强，我班带药服用的现象比较严重，一方面</tspan><tspan x="2209" dy="17.5">可能是因孩子们自身的身体素质较差，另一方</tspan><tspan x="2209" dy="17.5">面是因为平时教师组织户外体育运动还不够多</tspan><tspan x="2209" dy="17.5">，这也是值得我们深思的。在语言领域中，我</tspan><tspan x="2209" dy="17.5">们幼儿是发展得比较好的，平时我们班孩子异</tspan><tspan x="2209" dy="17.5">常爱听故事，还有个别幼儿已有很多的识字。</tspan><tspan x="2209" dy="17.5">但也有个别幼儿，由于年龄的差异，语言的理</tspan><tspan x="2209" dy="17.5">解本事有些落后。在社会领域中，我班的大部</tspan><tspan x="2209" dy="17.5">分都能理解并能遵守与自我相关的行为规则，</tspan><tspan x="2209" dy="17.5">乐意与人交往，能大胆、自信的在团体面前表</tspan><tspan x="2209" dy="17.5">演，愉快地融入团体生活。在数学领域中，幼</tspan><tspan x="2209" dy="17.5">儿的探索欲望比较强，好奇又好问，动手本事</tspan><tspan x="2209" dy="17.5">也很好，但对周围环境中的数、量、形、时间</tspan><tspan x="2209" dy="17.5">、空间等概念的理解不是很好，出现两级分化</tspan><tspan x="2209" dy="17.5">的现象，本学期必须在这方面重点加以辅导。</tspan><tspan x="2209" dy="17.5">在艺术领域方面，经过一个学期的学习，孩子</tspan><tspan x="2209" dy="17.5">们尝试运用了各种绘画工具作画，幼儿对于绘</tspan><tspan x="2209" dy="17.5">画的趣味性越来越浓厚了。别外我们班大多数</tspan><tspan x="2209" dy="17.5">幼儿音乐节奏感强、十分喜欢参加表演，本学</tspan><tspan x="2209" dy="17.5">期将重点加强训练。</tspan></text></g>
<g id="n2-s1-2"><rect class="o" x="2202" y="1210" width="286" height="188" rx="6"/><text class="t"><tspan x="2209" y="1230">2.家长情景：经过一段时间的努力，我们教师</tspan><tspan x="2209" dy="17.5">已经得到家长们的认可和信任。在日常经过多</tspan><tspan x="2209" dy="17.5">种途径与家长沟通，建立了良好的交流平台，</tspan><tspan x="2209" dy="17.5">家长们也主动和教师交流，了解孩子在园情景</tspan><tspan x="2209" dy="17.5">，听取教师的已见和看法，也让教师了解了孩</tspan><tspan x="2209" dy="17.5">子在家情景。经过日常观察我们也了解到个别</tspan><tspan x="2209" dy="17.5">家长平时忙于工作或教育意识不强对孩子的日</tspan><tspan x="2209" dy="17.5">常教育存在观念上的误区。总的来说，我们班</tspan><tspan x="2209" dy="17.5">的家长总体水平较高，对于教师的工作比较理</tspan><tspan x="2209" dy="17.5">解和支持，呈现出较好的发展趋势。</tspan></text></g>
<g id="n2-s2"><rect class="o" x="2054" y="1824.5" width="136" height="31" rx="6"/><text class="t" x="2061" y="1844.5">二、本学期发展目标</text></g>
<g id="n2-s2-1"><rect class="o" x="2215" y="1428" width="286" height="153" rx="6"/><text class="t"><tspan x="2222" y="1448">（一）健康领域目标：1、学习用适当的方式</tspan><tspan x="2222" dy="17.5">表达情绪，学会调整自已的情绪。2、学习整</tspan><tspan x="2222" dy="17.5">理床铺，管理自已的物品。3、明白必要的卫</tspan><tspan x="2222" dy="17.5">生保健知识，认识身体的主要器官及基本功能</tspan><tspan x="2222" dy="17.5">，学习对自已和身体进行适当的保护。爱吃各</tspan><tspan x="2222" dy="17.5">种食物，养成主动喝水的习惯。注意生活环境</tspan><tspan x="2222" dy="17.5">卫生。4、了解必要的安全常识，对陌生人和</tspan><tspan x="2222" dy="17.5">危险事物有警觉。</tspan></text></g>
<g id="n2-s2-2"><rect class="o" x="2215" y="1611" width="286" height="170.5" rx="6"/><text class="t"><tspan x="2222" y="1631">（二）社会领域目标：1、关爱并尊敬父母、</tspan><tspan x="2222" dy="17.5">长辈、教师，接触与自已生活有关的社会工作</tspan><tspan x="2222" dy="17.5">人员，了解他们的职业与自已的关系，尊重他</tspan><tspan x="2222" dy="17.5">们的劳动。2、学习尊重别人的意见、需要、</tspan><tspan x="2222" dy="17.5">感受，分享群体合作中产生的欢乐和成果。3</tspan><tspan x="2222" dy="17.5">、学习简单评价自已及别人的行为，初步分辨</tspan><tspan x="2222" dy="17.5">是非，对自已能做的事表现出自信。4、了解</tspan><tspan x="2222" dy="17.5">家乡的设施、景观，喜爱参与民间活动，萌发</tspan><tspan x="2222" dy="17.5">爱家乡的情感。</tspan></text></g>
<g id="n2-s2-3"><rect class="o" x="2215" y="1812" width="286" height="100.5" rx="6"/><text class="t"><tspan x="2222" y="1832">（三）语言领域目标；1、学习欣赏文学作，</tspan><tspan x="2222" dy="17.5">乐意表达自已的感受，能口齿清楚地朗诵儿歌</tspan><tspan x="2222" dy="17.5">和学习复述故事。2、学习有顺序的看图书，</tspan><tspan x="2222" dy="17.5">乐意与同伴交流图书的资料。3、喜欢看电视</tspan><tspan x="2222" dy="17.5">、听广播、学习收集新闻。</tspan></text></g>
<g id="n2-s2-4"><rect class="o" x="2215" y="1942" width="286" height="118" rx="6"/><text class="t"><tspan x="2222" y="1962">（四）科学领域目标：1、对周围的事物、现</tspan><tspan x="2222" dy="17.5">象感兴趣，有好奇心和求知欲。2、能从生活</tspan><tspan x="2222" dy="17.5">和游戏中学习简单的数、形、时空等概念。学</tspan><tspan x="2222" dy="17.5">习使用比较、分类、排序、测量等方法。3、</tspan><tspan x="2222" dy="17.5">关心周围环境，爱护动植物，萌发初步的环保</tspan><tspan x="2222" dy="17.5">意识。</tspan></text></g>
<g id="n2-s2-5"><rect class="o" x="2215" y="2089" width="286" height="170.5" rx="6"/><text class="t"><tspan x="2222" y="2109">（五）艺术领域目标：音乐：（1、学习用自</tspan><tspan x="2222" dy="17.5">然的声音较有表情的唱歌，能完整地唱几首歌</tspan><tspan x="2222" dy="17.5">，2、喜欢模仿创编歌曲和动作。3、喜欢随</tspan><tspan x="2222" dy="17.5">着音乐的节奏和情绪模仿动作、跳舞的做游戏</tspan><tspan x="2222" dy="17.5">。喜欢用打击乐器的身体动作来表达音乐节奏</tspan><tspan x="2222" dy="17.5">。）绘画：继续用各种线条和简单形状表现物</tspan><tspan x="2222" dy="17.5">体的主要特征。尝试使用各种绘画方式作画。</tspan><tspan x="2222" dy="17.5">制作：鼓励利用自然物或废旧材料，按照自我</tspan><tspan x="2222" dy="17.5">的意愿和想象大胆表现。</tspan></text></g>
<g id="n2-s3"><rect class="o" x="2054" y="2490.5" width="123" height="31" rx="6"/><text class="t" x="2061" y="2510.5">三、卫生保健工作</text></g>
<g id="n2-s3-1"><rect class="o" x="2201" y="2289" width="287" height="83" rx="6"/><text class="t"><tspan x="2208" y="2309">（一）保育员的配班工作：有意识的提高自我</tspan><tspan x="2208" dy="17.5">对幼儿的观察、指导本事，在每一天上午有针</tspan><tspan x="2208" dy="17.5">对性的对一个区域进行指导、观察、记录工作</tspan><tspan x="2208" dy="17.5">。</tspan></text></g>
<g id="n2-s3-2"><rect class="o" x="2201" y="2403" width="287" height="48" rx="6"/><text class="t"><tspan x="2208" y="2423">（二）继续在平常活动中对幼儿的生活自理本</tspan><tspan x="2208" dy="17.5">事进行培养。</tspan></text></g>
<g id="n2-s3-3"><rect class="o" x="2201" y="2481" width="287" height="65.5" rx="6"/><text class="t"><tspan x="2208" y="2501">（三）保育教师利用中午时间，根据主题制作</tspan><tspan x="2208" dy="17.5">玩教具，同时对幼儿的日常生活进行观察记录</tspan><tspan x="2208" dy="17.5">。</tspan></text></g>
<g id="n2-s3-4"><rect class="o" x="2201" y="2577" width="287" height="48" rx="6"/><text class="t"><tspan x="2208" y="2597">（四）保育教师坚持做好日常清洁工作、消毒</tspan><tspan x="2208" dy="17.5">工作，预防传染病的发生。</tspan></text></g>
<g id="n2-s3-5"><rect class="o" x="2201" y="2655" width="287" height="48" rx="6"/><text class="t"><tspan x="2208" y="2675">（五）加强幼儿安全教育和教师的职责心，避</tspan><tspan x="2208" dy="17.5">免发生任何事故。</tspan></text></g>
<g id="n2-s4"><rect class="o" x="2054" y="2837.5" width="96" height="31" rx="6"/><text class="t" x="2061" y="2857.5">四、家长工作</text></g>
<g id="n2-s4-1"><rect class="o" x="2174" y="2733" width="286" height="240.5" rx="6"/><text class="t"><tspan x="2181" y="2753">在家长工作方面，我们一向本着尊重、平等、</tspan><tspan x="2181" dy="17.5">合作的原则，争取家长的理解、支持和主动参</tspan><tspan x="2181" dy="17.5">与，提高家园合作的质量。本学期我们将继续</tspan><tspan x="2181" dy="17.5">优化家园沟通的形式，经过电访、应对面交流</tspan><tspan x="2181" dy="17.5">、交互平台、家长开放日、亲子活动等多种渠</tspan><tspan x="2181" dy="17.5">道，提高家园互动，增进家园情感。利用早晚</tspan><tspan x="2181" dy="17.5">接送孩子的时间，与家长交流，互换育儿信息</tspan><tspan x="2181" dy="17.5">。将教学主题资料及时告知家长，让家长能在</tspan><tspan x="2181" dy="17.5">最快的时间里了解孩子的教育，以便家长配合</tspan><tspan x="2181" dy="17.5">我们的教育工作。最终我们将继续邀请家长参</tspan><tspan x="2181" dy="17.5">加开放日活动，使家长以直观的方式了解幼儿</tspan><tspan x="2181" dy="17.5">园的教育方法，了解教师工作情景，增进与教</tspan><tspan x="2181" dy="17.5">师的情感联系。</tspan></text></g>

<!-- branch 4 -->
<g id="n4-intro"><rect class="m" x="2054" y="3003" width="286" height="240.5" rx="6"/><text class="t"><tspan x="2061" y="3023">本学期我段共有2个班，其中小一班经过一学</tspan><tspan x="2061" dy="17.5">年的幼儿园小小班学习生活，幼儿在体智德美</tspan><tspan x="2061" dy="17.5">诸方面得到一定发展，小二班均是刚入园幼儿</tspan><tspan x="2061" dy="17.5">，相比之下，两个班幼儿水平存在一定差异，</tspan><tspan x="2061" dy="17.5">但由于幼儿年龄相当，因此，我们将从本段的</tspan><tspan x="2061" dy="17.5">实际情况出发，以园计划为核心，制订有针对</tspan><tspan x="2061" dy="17.5">性的计划，配合学园争创泉州市优质幼儿园，</tspan><tspan x="2061" dy="17.5">重视观念的转变和体现，不断摸索、创新，积</tspan><tspan x="2061" dy="17.5">极提高教师的工作热情及各方面素质，发挥年</tspan><tspan x="2061" dy="17.5">轻教师的优势。以培养幼儿健康活泼、愉快合</tspan><tspan x="2061" dy="17.5">作、有目的地开展各种活动，争创年段特色，</tspan><tspan x="2061" dy="17.5">与幼儿共同体验快乐，体验成功，让快乐始终</tspan><tspan x="2061" dy="17.5">伴随着孩子们的成长。</tspan></text></g>
<g id="n4-s1"><rect class="m" x="2054" y="3791" width="96" height="31" rx="6"/><text class="t" x="2061" y="3811">一、保教工作</text></g>
<g id="n4-s1-0"><rect class="m" x="2174" y="3275" width="286" height="135.5" rx="6"/><text class="t"><tspan x="2181" y="3295">我段始终以保为重，小二班幼儿第一次从爸爸</tspan><tspan x="2181" dy="17.5">、妈妈、爷爷、奶奶身边走向社会，走进幼儿</tspan><tspan x="2181" dy="17.5">园这个大集体，不适应的情况较多，因此，我</tspan><tspan x="2181" dy="17.5">有必要及时组织教师学习、讨论幼儿活动时会</tspan><tspan x="2181" dy="17.5">碰到的困难，及时解决，使每项活动有条不紊</tspan><tspan x="2181" dy="17.5">的进行，杜绝事故的发生。让家长放心地将孩</tspan><tspan x="2181" dy="17.5">子交到我们手上。</tspan></text></g>
<g id="n4-s1-1"><rect class="m" x="2174" y="3440" width="286" height="65.5" rx="6"/><text class="t"><tspan x="2181" y="3460">（1）组织新保育员学习保育员职责，增强保</tspan><tspan x="2181" dy="17.5">育意识，合理安排保育员的上下班时间，做好</tspan><tspan x="2181" dy="17.5">保育员与教师配合的指导工作。</tspan></text></g>
<g id="n4-s1-2"><rect class="m" x="2174" y="3535" width="286" height="65.5" rx="6"/><text class="t"><tspan x="2181" y="3555">（2）加强保育知识学习和正确技能操作，提</tspan><tspan x="2181" dy="17.5">高保育质量。对幼儿进行自我防护意识的培养</tspan><tspan x="2181" dy="17.5">，提高自我防护能力。</tspan></text></g>
<g id="n4-s1-3"><rect class="m" x="2174" y="3630" width="286" height="65.5" rx="6"/><text class="t"><tspan x="2181" y="3650">（3）科学安排幼儿一日活动，注意动静交替</tspan><tspan x="2181" dy="17.5">。在幼儿一日生活活动中做好安全防护工作，</tspan><tspan x="2181" dy="17.5">杜绝意外事故发生。</tspan></text></g>
<g id="n4-s1-4"><rect class="m" x="2174" y="3726" width="286" height="48" rx="6"/><text class="t"><tspan x="2181" y="3746">（4）定期洗、晒、消毒玩具、用具和寝室。</tspan><tspan x="2181" dy="17.5">注意保持室内外环境和幼儿仪表的整洁。</tspan></text></g>
<g id="n4-s1-5"><rect class="m" x="2174" y="3804" width="286" height="65.5" rx="6"/><text class="t"><tspan x="2181" y="3824">（5）重视班级幼儿良好的常规培养，培养幼</tspan><tspan x="2181" dy="17.5">儿从小懂礼貌、守纪律、爱学习、爱劳动等良</tspan><tspan x="2181" dy="17.5">好品质。</tspan></text></g>
<g id="n4-s1-6"><rect class="m" x="2174" y="3899" width="286" height="100.5" rx="6"/><text class="t"><tspan x="2181" y="3919">（6）根据幼儿的年龄特点，发展水平和保教</tspan><tspan x="2181" dy="17.5">目标，有效利用各种教育资源，创设有幼儿参</tspan><tspan x="2181" dy="17.5">与、生动活泼的良好环境，每月定一周开展创</tspan><tspan x="2181" dy="17.5">设区角和环境布置的活动，提高环境的教育功</tspan><tspan x="2181" dy="17.5">能，配合园的检查。</tspan></text></g>
<g id="n4-s1-7"><rect class="m" x="2174" y="4029" width="286" height="83" rx="6"/><text class="t"><tspan x="2181" y="4049">（7）鼓励年段教师树立正确的儿童观、教育</tspan><tspan x="2181" dy="17.5">观，做幼儿的知心朋友，日常生活中坚持用鼓</tspan><tspan x="2181" dy="17.5">励、激励的话语增进幼儿的自信心，使幼儿喜</tspan><tspan x="2181" dy="17.5">欢上幼儿园。</tspan></text></g>
<g id="n4-s1-8"><rect class="m" x="2174" y="4143" width="286" height="65.5" rx="6"/><text class="t"><tspan x="2181" y="4163">（8）有计划地开展新主题活动《好吃的食物</tspan><tspan x="2181" dy="17.5">》、《鞋子踏踏响》，制定主题活动网络、主</tspan><tspan x="2181" dy="17.5">题目标网络。</tspan></text></g>
<g id="n4-s1-9"><rect class="m" x="2174" y="4238" width="286" height="65.5" rx="6"/><text class="t"><tspan x="2181" y="4258">（9）配合园做好新生入园前及一年一度的体</tspan><tspan x="2181" dy="17.5">检工作，做好幼儿的身高、体重、视力的测量</tspan><tspan x="2181" dy="17.5">体检工作。</tspan></text></g>
<g id="n4-s2"><rect class="m" x="2054" y="4520" width="109" height="31" rx="6"/><text class="t" x="2061" y="4540">二、教科研工作</text></g>
<g id="n4-s2-1"><rect class="m" x="2188" y="4334" width="286" height="135.5" rx="6"/><text class="t"><tspan x="2195" y="4354">（1）加大教科研力度，提高教研质量，加强</tspan><tspan x="2195" dy="17.5">年段教师工作的自觉性和积极性。领会学园教</tspan><tspan x="2195" dy="17.5">研专题活动精神，各班根据幼儿特点及兴趣，</tspan><tspan x="2195" dy="17.5">认真开展美术专题教研，小一班开展《以游戏</tspan><tspan x="2195" dy="17.5">形式开展小班美术活动》，小二班开展《幼儿</tspan><tspan x="2195" dy="17.5">运用色彩绘画初探》课题活动，做到班班有课</tspan><tspan x="2195" dy="17.5">题。</tspan></text></g>
<g id="n4-s2-2"><rect class="m" x="2188" y="4500" width="286" height="100.5" rx="6"/><text class="t"><tspan x="2195" y="4520">（2）贯彻《纲要》精神，以"领域"为主、"主</tspan><tspan x="2195" dy="17.5">题"为辅的课程建构形式，开展促进孩子全面</tspan><tspan x="2195" dy="17.5">发展的活动。认真制定周、逐日计划，做到教</tspan><tspan x="2195" dy="17.5">育有目的，行动有方向，使每次活动行之有效</tspan><tspan x="2195" dy="17.5">。</tspan></text></g>
<g id="n4-s2-3"><rect class="m" x="2188" y="4630" width="286" height="83" rx="6"/><text class="t"><tspan x="2195" y="4650">（3）保证每两周一次的年段教研活动，并做</tspan><tspan x="2195" dy="17.5">好记录。大胆设计有创意的教育活动内容和方</tspan><tspan x="2195" dy="17.5">法，参加园内组织的教学观摩和相互听课、评</tspan><tspan x="2195" dy="17.5">价活动，做到有集中、有分散。</tspan></text></g>
<g id="n4-s3"><rect class="m" x="2054" y="4969" width="109" height="31" rx="6"/><text class="t" x="2061" y="4989">三、家长与社区</text></g>
<g id="n4-s3-1"><rect class="m" x="2188" y="4743" width="286" height="83" rx="6"/><text class="t"><tspan x="2195" y="4763">（1）各班在"家教园地"向家长宣传本月、周</tspan><tspan x="2195" dy="17.5">、半日的教育教学内容及相关的家教文章，让</tspan><tspan x="2195" dy="17.5">家长把握家教方向，增强家长的使命感和责任</tspan><tspan x="2195" dy="17.5">感。</tspan></text></g>
<g id="n4-s3-2"><rect class="m" x="2188" y="4856" width="286" height="83" rx="6"/><text class="t"><tspan x="2195" y="4876">（2）健全家园联系，充分发挥家长园地的桥</tspan><tspan x="2195" dy="17.5">梁作用，提高家长开放日活动的质量，开展适</tspan><tspan x="2195" dy="17.5">合幼儿年龄特点的亲子活动，沟通家园教育效</tspan><tspan x="2195" dy="17.5">应，确保家园教育的一致性。</tspan></text></g>
<g id="n4-s3-3"><rect class="m" x="2188" y="4969" width="286" height="48" rx="6"/><text class="t"><tspan x="2195" y="4989">（3）提高家访、面访、电话访问、你说我说</tspan><tspan x="2195" dy="17.5">大家说等方式，完善家园沟通。</tspan></text></g>
<g id="n4-s3-4"><rect class="m" x="2188" y="5047" width="286" height="83" rx="6"/><text class="t"><tspan x="2195" y="5067">（4）通过"家长学校"讲座、举办"家园同乐"</tspan><tspan x="2195" dy="17.5">、家访等活动，密切家园联系，与家长共同领</tspan><tspan x="2195" dy="17.5">会《纲要》精神，逐步树立儿童观、发展观、</tspan><tspan x="2195" dy="17.5">教育观，形成家庭、幼儿园教育的合力。</tspan></text></g>
<g id="n4-s3-5"><rect class="m" x="2188" y="5160" width="286" height="48" rx="6"/><text class="t"><tspan x="2195" y="5180">（5）鼓励家长积极动笔，撰写家教文章，推</tspan><tspan x="2195" dy="17.5">荐有代表性的论文在园报上发表。</tspan></text></g>
</g>
</svg>
